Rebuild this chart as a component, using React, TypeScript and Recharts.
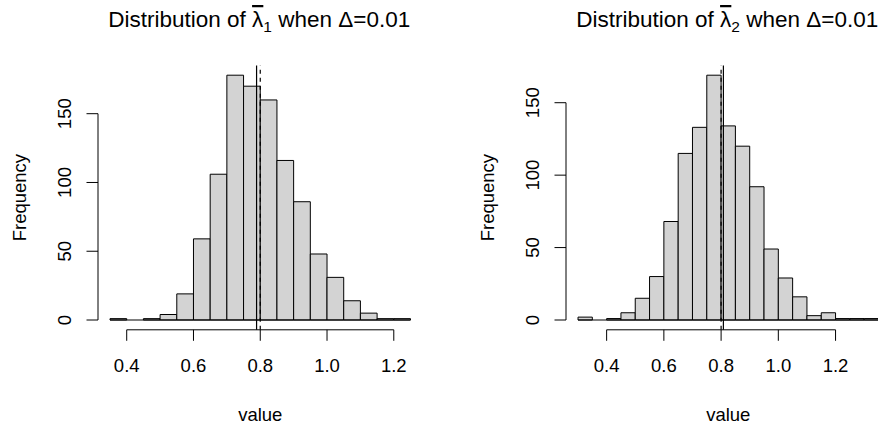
import React from 'react';
import { ComposedChart, XAxis, YAxis, ReferenceArea, ReferenceLine } from 'recharts';

// ---------- data ----------
const BIN_WIDTH = 0.05;

const lambda1BinStarts = [0.35, 0.40, 0.45, 0.50, 0.55, 0.60, 0.65, 0.70, 0.75, 0.80, 0.85, 0.90, 0.95, 1.00, 1.05, 1.10, 1.15, 1.20];
const lambda1Counts = [1, 0, 1, 4, 19, 59, 106, 178, 170, 160, 116, 86, 48, 31, 14, 5, 1, 1];
const lambda1Mean = 0.789;

const lambda2BinStarts = [0.30, 0.35, 0.40, 0.45, 0.50, 0.55, 0.60, 0.65, 0.70, 0.75, 0.80, 0.85, 0.90, 0.95, 1.00, 1.05, 1.10, 1.15, 1.20, 1.25, 1.30];
const lambda2Counts = [2, 0, 1, 5, 15, 30, 68, 115, 133, 169, 134, 120, 92, 49, 29, 16, 3, 5, 1, 1, 1];
const lambda2Mean = 0.808;

const trueValue = 0.8;

const xTicks = [0.4, 0.6, 0.8, 1.0, 1.2];
const yTicks = [0, 50, 100, 150];

const FONT = '"Liberation Sans", Arial, Helvetica, sans-serif';
const TICK_FS = 18.5;

type PanelProps = {
  left: number;
  binStarts: number[];
  counts: number[];
  mean: number;
  truth: number;
  subscript: string;
};

// R-style usr range: data range extended by 4% each side
function extend(lo: number, hi: number): [number, number] {
  const d = (hi - lo) * 0.04;
  return [lo - d, hi + d];
}

const XTick = (props: any) => {
  const { x, y, payload } = props;
  return (
    <text x={x} y={y} dy={TICK_FS * 0.72} textAnchor="middle" fontSize={TICK_FS} fontFamily={FONT} fill="#000">
      {Number(payload.value).toFixed(1)}
    </text>
  );
};

const YTick = (props: any) => {
  const { x, y, payload } = props;
  const bx = x - 15;
  return (
    <text x={bx} y={y} transform={`rotate(-90, ${bx}, ${y})`} textAnchor="middle" fontSize={TICK_FS} fontFamily={FONT} fill="#000">
      {payload.value}
    </text>
  );
};

function Panel({ left, binStarts, counts, mean, truth, subscript }: PanelProps) {
  const data = binStarts.map((s, i) => ({ start: s, end: s + BIN_WIDTH, count: counts[i] }));
  const xLo = binStarts[0];
  const xHi = binStarts[binStarts.length - 1] + BIN_WIDTH;
  const xDomain = extend(xLo, xHi);
  const yDomain = extend(0, Math.max(...counts));
  const W = 439;
  const H = 428;
  const margin = { top: 65.4, right: 16.5, bottom: 38.2, left: 38 };
  const plotW = W - margin.left - 60 - margin.right;
  const cx = margin.left + 60 + plotW / 2;
  const cy = margin.top + (H - margin.top - margin.bottom - 60) / 2;
  return (
    <div style={{ position: 'absolute', left, top: 0, width: W, height: H }}>
      <ComposedChart width={W} height={H} data={data} margin={margin}>
        <XAxis
          type="number"
          dataKey="start"
          domain={xDomain}
          allowDataOverflow
          ticks={xTicks}
          interval={0}
          axisLine={false}
          tickLine={{ stroke: '#000' }}
          tickSize={11}
          tickMargin={18}
          height={60}
          tick={<XTick />}
        />
        <YAxis
          type="number"
          domain={yDomain}
          allowDataOverflow
          ticks={yTicks}
          interval={0}
          axisLine={false}
          tickLine={{ stroke: '#000' }}
          tickSize={11.5}
          tickMargin={0}
          width={60}
          tick={<YTick />}
        />
        {data.map((d, i) =>
          d.count > 0 ? (
            <ReferenceArea
              key={i}
              x1={d.start}
              x2={d.end}
              y1={0}
              y2={d.count}
              fill="#d3d3d3"
              fillOpacity={1}
              stroke="#000"
              strokeWidth={1}
              strokeOpacity={1}
              ifOverflow="visible"
            />
          ) : null
        )}
        <ReferenceLine
          segment={[{ x: xLo, y: 0 }, { x: xHi, y: 0 }]}
          stroke="#000"
          strokeWidth={1}
          ifOverflow="visible"
        />
        <ReferenceLine
          segment={[{ x: xTicks[0], y: yDomain[0] }, { x: xTicks[xTicks.length - 1], y: yDomain[0] }]}
          stroke="#000"
          strokeWidth={1}
          ifOverflow="visible"
        />
        <ReferenceLine
          segment={[{ x: xDomain[0], y: yTicks[0] }, { x: xDomain[0], y: yTicks[yTicks.length - 1] }]}
          stroke="#000"
          strokeWidth={1}
          ifOverflow="visible"
        />
        <ReferenceLine x={mean} stroke="#000" strokeWidth={1.2} ifOverflow="visible" />
        <ReferenceLine x={truth} stroke="#000" strokeWidth={1.2} strokeDasharray="4 4" ifOverflow="visible" />
      </ComposedChart>
      <svg width={W} height={H} style={{ position: 'absolute', left: 0, top: 0, pointerEvents: 'none', overflow: 'visible' }}>
        <text x={cx - 1} y={27} textAnchor="middle" fontSize={22.5} fontFamily={FONT} fill="#000">
          {'Distribution of '}
          <tspan style={{ textDecoration: 'overline' }}>λ</tspan>
          <tspan fontSize={15.5} dy={5}>{subscript}</tspan>
          <tspan dy={-5}>{' when Δ=0.01'}</tspan>
        </text>
        <text x={cx} y={420.5} textAnchor="middle" fontSize={TICK_FS} fontFamily={FONT} fill="#000">
          value
        </text>
        <text
          x={26.5}
          y={cy}
          transform={`rotate(-90, 26.5, ${cy})`}
          textAnchor="middle"
          fontSize={TICK_FS}
          fontFamily={FONT}
          fill="#000"
        >
          Frequency
        </text>
      </svg>
    </div>
  );
}

export default function App() {
  return (
    <div style={{ position: 'fixed', left: 0, top: 0, width: 878, height: 428, overflow: 'hidden', background: '#fff' }}>
      <Panel left={0} binStarts={lambda1BinStarts} counts={lambda1Counts} mean={lambda1Mean} truth={trueValue} subscript="1" />
      <Panel left={467.7} binStarts={lambda2BinStarts} counts={lambda2Counts} mean={lambda2Mean} truth={trueValue} subscript="2" />
    </div>
  );
}
